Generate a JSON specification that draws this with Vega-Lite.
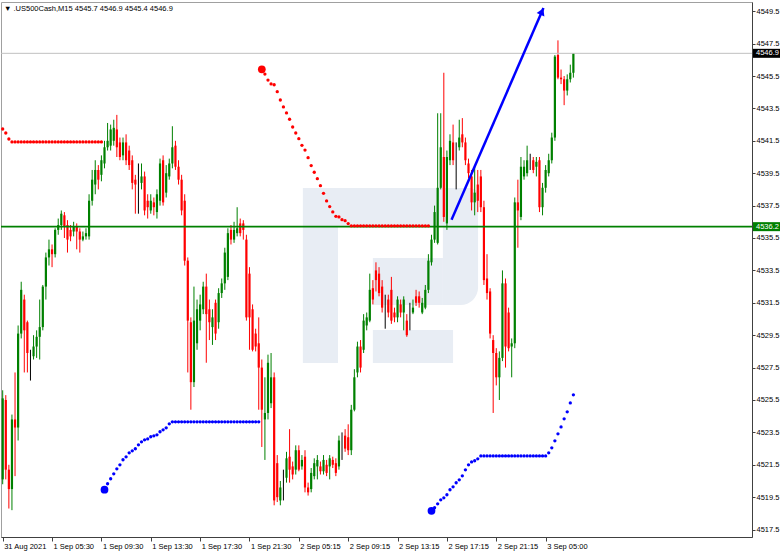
{
"$schema":"https://vega.github.io/schema/vega-lite/v6.json",
"width":751,"height":535,"autosize":"none",
"padding":{"left":1,"top":2,"right":30,"bottom":17},
"background":"white",
"config":{"view":{"stroke":"#a0a0a0","strokeWidth":1},"font":"Liberation Sans"},
"title":{"text":"▼ .US500Cash,M15  4545.7 4546.9 4545.4 4546.9","anchor":"start","frame":"group","orient":"top","offset":-10,"dx":3,"fontSize":7.5,"fontWeight":"normal","color":"#000000","font":"Liberation Sans"},
"resolve":{"axis":{"x":"independent","y":"independent"}},
"datasets":{
"logo":[{"a":97.3,"b":108.7,"lo":4527.78,"hi":4538.59},{"a":108.7,"b":142.7,"lo":4536.18,"hi":4538.59},{"a":120.0,"b":142.7,"lo":4531.36,"hi":4534.27},{"a":120.0,"b":146.0,"lo":4527.78,"hi":4529.82}],
"logoBowl":[{"a":142.7,"b":154.1,"lo":4531.36,"hi":4538.59}],
"bars":[
{"i":0,"o":4520.6,"h":4526.1,"l":4520.3,"c":4525.6},{"i":1,"o":4525.5,"h":4525.8,"l":4520.6,"c":4521.2},{"i":2,"o":4521.2,"h":4521.5,"l":4518.8,"c":4520.0},{"i":3,"o":4520.0,"h":4524.6,"l":4518.7,"c":4524.3},{"i":4,"o":4524.3,"h":4527.2,"l":4520.8,"c":4523.8},{"i":5,"o":4523.8,"h":4530.1,"l":4523.0,"c":4529.6},{"i":6,"o":4529.6,"h":4532.8,"l":4529.3,"c":4532.3},{"i":7,"o":4531.7,"h":4532.0,"l":4527.2,"c":4529.8},{"i":8,"o":4530.3,"h":4530.4,"l":4527.2,"c":4528.4},{"i":9,"o":4528.4,"h":4528.6,"l":4526.7,"c":4528.4},
{"i":10,"o":4528.2,"h":4529.5,"l":4528.0,"c":4528.8},{"i":11,"o":4528.8,"h":4529.8,"l":4528.1,"c":4529.4},{"i":12,"o":4529.4,"h":4531.7,"l":4528.0,"c":4530.0},{"i":13,"o":4530.0,"h":4532.6,"l":4529.8,"c":4532.5},{"i":14,"o":4532.5,"h":4534.6,"l":4531.7,"c":4534.3},{"i":15,"o":4534.3,"h":4535.4,"l":4533.8,"c":4534.8},{"i":16,"o":4534.8,"h":4535.1,"l":4533.7,"c":4534.5},{"i":17,"o":4534.5,"h":4536.1,"l":4534.3,"c":4536.0},{"i":18,"o":4536.0,"h":4536.7,"l":4535.7,"c":4536.3},{"i":19,"o":4536.3,"h":4537.2,"l":4536.0,"c":4537.0},
{"i":20,"o":4536.9,"h":4537.1,"l":4535.5,"c":4536.2},{"i":21,"o":4536.3,"h":4536.6,"l":4534.6,"c":4535.4},{"i":22,"o":4536.0,"h":4536.3,"l":4535.3,"c":4535.6},{"i":23,"o":4535.9,"h":4536.5,"l":4535.6,"c":4536.2},{"i":24,"o":4536.2,"h":4536.4,"l":4534.8,"c":4535.9},{"i":25,"o":4535.9,"h":4536.1,"l":4534.6,"c":4535.4},{"i":26,"o":4535.4,"h":4535.9,"l":4535.3,"c":4535.6},{"i":27,"o":4535.6,"h":4536.1,"l":4535.4,"c":4535.8},{"i":28,"o":4535.6,"h":4538.2,"l":4535.4,"c":4537.8},{"i":29,"o":4537.8,"h":4539.7,"l":4537.5,"c":4539.1},
{"i":30,"o":4538.8,"h":4540.3,"l":4538.2,"c":4539.7},{"i":31,"o":4539.7,"h":4540.0,"l":4538.5,"c":4539.1},{"i":32,"o":4539.4,"h":4540.6,"l":4539.0,"c":4540.3},{"i":33,"o":4540.1,"h":4541.5,"l":4539.8,"c":4541.1},{"i":34,"o":4541.1,"h":4542.6,"l":4540.9,"c":4541.5},{"i":35,"o":4541.2,"h":4542.5,"l":4540.9,"c":4542.2},{"i":36,"o":4541.5,"h":4542.8,"l":4541.2,"c":4542.3},{"i":37,"o":4542.2,"h":4543.1,"l":4540.5,"c":4541.1},{"i":38,"o":4541.4,"h":4541.7,"l":4540.3,"c":4540.5},{"i":39,"o":4540.6,"h":4541.7,"l":4540.3,"c":4541.4},
{"i":40,"o":4541.4,"h":4541.9,"l":4540.0,"c":4540.3},{"i":41,"o":4540.9,"h":4541.2,"l":4539.7,"c":4540.0},{"i":42,"o":4540.3,"h":4540.6,"l":4538.5,"c":4538.9},{"i":43,"o":4539.1,"h":4539.4,"l":4537.0,"c":4538.8},{"i":44,"o":4538.8,"h":4540.1,"l":4537.0,"c":4538.8},{"i":45,"o":4538.9,"h":4540.1,"l":4538.5,"c":4539.3},{"i":46,"o":4539.3,"h":4539.6,"l":4536.9,"c":4537.2},{"i":47,"o":4537.8,"h":4538.2,"l":4536.7,"c":4537.4},{"i":48,"o":4537.2,"h":4538.2,"l":4537.0,"c":4537.8},{"i":49,"o":4537.7,"h":4538.0,"l":4536.9,"c":4537.4},
{"i":50,"o":4537.1,"h":4538.5,"l":4536.7,"c":4538.2},{"i":51,"o":4537.8,"h":4540.4,"l":4537.5,"c":4540.1},{"i":52,"o":4540.3,"h":4540.6,"l":4537.5,"c":4537.7},{"i":53,"o":4538.3,"h":4540.0,"l":4538.0,"c":4539.5},{"i":54,"o":4539.3,"h":4540.4,"l":4539.1,"c":4540.1},{"i":55,"o":4540.1,"h":4542.4,"l":4539.8,"c":4541.1},{"i":56,"o":4541.2,"h":4541.5,"l":4539.7,"c":4539.9},{"i":57,"o":4539.9,"h":4540.3,"l":4538.8,"c":4539.1},{"i":58,"o":4539.1,"h":4539.4,"l":4536.9,"c":4537.2},{"i":59,"o":4537.8,"h":4538.2,"l":4533.8,"c":4534.1},
{"i":60,"o":4534.1,"h":4534.3,"l":4527.2,"c":4530.4},{"i":61,"o":4530.3,"h":4530.6,"l":4524.9,"c":4526.6},{"i":62,"o":4526.6,"h":4532.5,"l":4526.3,"c":4530.4},{"i":63,"o":4529.0,"h":4531.7,"l":4528.6,"c":4531.1},{"i":64,"o":4530.4,"h":4532.0,"l":4529.8,"c":4531.4},{"i":65,"o":4531.1,"h":4532.8,"l":4530.8,"c":4532.5},{"i":66,"o":4532.5,"h":4533.3,"l":4527.8,"c":4530.8},{"i":67,"o":4531.1,"h":4531.7,"l":4529.2,"c":4530.3},{"i":68,"o":4530.0,"h":4531.1,"l":4528.9,"c":4530.6},{"i":69,"o":4531.5,"h":4531.7,"l":4529.2,"c":4529.6},
{"i":70,"o":4530.3,"h":4532.4,"l":4529.9,"c":4532.1},{"i":71,"o":4532.1,"h":4533.0,"l":4531.8,"c":4532.7},{"i":72,"o":4532.7,"h":4534.9,"l":4532.3,"c":4534.6},{"i":73,"o":4533.1,"h":4536.1,"l":4532.9,"c":4535.8},{"i":74,"o":4536.0,"h":4536.3,"l":4535.1,"c":4535.4},{"i":75,"o":4535.4,"h":4536.5,"l":4535.2,"c":4536.0},{"i":76,"o":4535.8,"h":4537.4,"l":4535.6,"c":4536.1},{"i":77,"o":4536.4,"h":4536.7,"l":4535.6,"c":4535.8},{"i":78,"o":4536.4,"h":4536.6,"l":4535.4,"c":4536.0},{"i":79,"o":4535.4,"h":4535.7,"l":4530.4,"c":4530.6},
{"i":80,"o":4533.3,"h":4533.7,"l":4528.6,"c":4530.6},{"i":81,"o":4531.1,"h":4531.4,"l":4528.5,"c":4528.6},{"i":82,"o":4529.6,"h":4529.9,"l":4528.5,"c":4528.8},{"i":83,"o":4529.0,"h":4530.6,"l":4524.9,"c":4527.5},{"i":84,"o":4527.5,"h":4528.0,"l":4522.6,"c":4524.9},{"i":85,"o":4524.3,"h":4526.9,"l":4521.8,"c":4524.7},{"i":86,"o":4524.7,"h":4528.3,"l":4524.3,"c":4527.8},{"i":87,"o":4525.3,"h":4528.4,"l":4525.0,"c":4526.9},{"i":88,"o":4526.9,"h":4527.2,"l":4519.0,"c":4519.3},{"i":89,"o":4521.6,"h":4522.1,"l":4519.2,"c":4519.5},
{"i":90,"o":4519.3,"h":4520.5,"l":4519.0,"c":4520.1},{"i":91,"o":4520.1,"h":4521.2,"l":4519.3,"c":4520.1},{"i":92,"o":4520.7,"h":4522.3,"l":4520.4,"c":4521.9},{"i":93,"o":4522.0,"h":4523.7,"l":4520.4,"c":4521.2},{"i":94,"o":4521.4,"h":4521.7,"l":4520.6,"c":4520.9},{"i":95,"o":4521.2,"h":4522.7,"l":4520.9,"c":4522.4},{"i":96,"o":4522.4,"h":4522.7,"l":4521.1,"c":4521.2},{"i":97,"o":4521.4,"h":4522.1,"l":4521.2,"c":4521.8},{"i":98,"o":4522.0,"h":4522.4,"l":4519.8,"c":4520.1},{"i":99,"o":4520.1,"h":4520.4,"l":4519.6,"c":4519.8},
{"i":100,"o":4520.0,"h":4521.3,"l":4519.8,"c":4521.0},{"i":101,"o":4520.8,"h":4521.9,"l":4520.6,"c":4521.6},{"i":102,"o":4521.4,"h":4522.1,"l":4520.6,"c":4521.8},{"i":103,"o":4521.4,"h":4521.7,"l":4520.9,"c":4521.1},{"i":104,"o":4521.1,"h":4522.1,"l":4520.9,"c":4521.8},{"i":105,"o":4521.5,"h":4521.8,"l":4520.8,"c":4521.0},{"i":106,"o":4521.4,"h":4522.1,"l":4520.6,"c":4521.9},{"i":107,"o":4521.8,"h":4522.0,"l":4521.3,"c":4521.5},{"i":108,"o":4521.6,"h":4521.9,"l":4520.8,"c":4521.0},{"i":109,"o":4521.4,"h":4523.3,"l":4521.2,"c":4523.0},
{"i":110,"o":4523.2,"h":4523.5,"l":4521.8,"c":4523.2},{"i":111,"o":4523.3,"h":4523.7,"l":4522.3,"c":4522.5},{"i":112,"o":4523.2,"h":4524.0,"l":4522.1,"c":4522.4},{"i":113,"o":4522.4,"h":4525.2,"l":4522.1,"c":4524.9},{"i":114,"o":4524.9,"h":4527.4,"l":4524.8,"c":4526.9},{"i":115,"o":4527.2,"h":4529.1,"l":4526.9,"c":4528.8},{"i":116,"o":4528.8,"h":4529.2,"l":4527.2,"c":4527.5},{"i":117,"o":4528.6,"h":4530.8,"l":4528.4,"c":4530.4},{"i":118,"o":4530.1,"h":4530.9,"l":4529.8,"c":4530.6},{"i":119,"o":4530.4,"h":4533.3,"l":4530.3,"c":4532.3},
{"i":120,"o":4532.4,"h":4532.9,"l":4531.4,"c":4531.7},{"i":121,"o":4533.5,"h":4534.0,"l":4532.2,"c":4532.9},{"i":122,"o":4533.3,"h":4533.7,"l":4531.9,"c":4532.1},{"i":123,"o":4532.5,"h":4532.9,"l":4530.9,"c":4531.2},{"i":124,"o":4531.9,"h":4532.0,"l":4529.9,"c":4531.9},{"i":125,"o":4531.7,"h":4532.0,"l":4530.6,"c":4530.9},{"i":126,"o":4532.3,"h":4533.1,"l":4530.2,"c":4530.4},{"i":127,"o":4530.9,"h":4531.2,"l":4530.3,"c":4530.6},{"i":128,"o":4530.6,"h":4531.9,"l":4530.3,"c":4531.7},{"i":129,"o":4531.4,"h":4531.7,"l":4530.6,"c":4530.9},
{"i":130,"o":4530.9,"h":4531.9,"l":4529.8,"c":4531.7},{"i":131,"o":4530.4,"h":4530.8,"l":4529.4,"c":4529.5},{"i":132,"o":4530.9,"h":4531.5,"l":4529.8,"c":4530.9},{"i":133,"o":4530.9,"h":4531.7,"l":4530.8,"c":4531.2},{"i":134,"o":4531.9,"h":4532.3,"l":4531.3,"c":4531.5},{"i":135,"o":4531.9,"h":4532.2,"l":4531.2,"c":4531.5},{"i":136,"o":4530.9,"h":4531.8,"l":4530.8,"c":4531.5},{"i":137,"o":4531.2,"h":4532.6,"l":4531.1,"c":4532.3},{"i":138,"o":4532.3,"h":4534.5,"l":4532.1,"c":4534.1},{"i":139,"o":4534.0,"h":4535.7,"l":4533.8,"c":4535.4},
{"i":140,"o":4535.4,"h":4537.5,"l":4535.2,"c":4537.1},{"i":141,"o":4535.2,"h":4543.2,"l":4535.1,"c":4538.6},{"i":142,"o":4538.6,"h":4543.2,"l":4538.5,"c":4541.1},{"i":143,"o":4540.5,"h":4545.7,"l":4536.5,"c":4536.8},{"i":144,"o":4536.4,"h":4540.9,"l":4536.0,"c":4540.5},{"i":145,"o":4540.3,"h":4541.9,"l":4540.0,"c":4541.5},{"i":146,"o":4541.4,"h":4542.5,"l":4540.0,"c":4540.3},{"i":147,"o":4541.2,"h":4541.4,"l":4538.5,"c":4541.2},{"i":148,"o":4541.1,"h":4542.8,"l":4540.9,"c":4541.7},{"i":149,"o":4541.9,"h":4542.9,"l":4541.1,"c":4541.4},
{"i":150,"o":4541.4,"h":4541.7,"l":4540.0,"c":4540.3},{"i":151,"o":4540.1,"h":4540.4,"l":4539.2,"c":4539.5},{"i":152,"o":4539.3,"h":4539.7,"l":4537.2,"c":4537.7},{"i":153,"o":4537.7,"h":4540.0,"l":4536.9,"c":4538.3},{"i":154,"o":4538.8,"h":4539.7,"l":4537.1,"c":4537.8},{"i":155,"o":4539.3,"h":4539.7,"l":4537.1,"c":4537.4},{"i":156,"o":4537.4,"h":4537.8,"l":4532.6,"c":4532.9},{"i":157,"o":4533.0,"h":4534.5,"l":4531.7,"c":4532.1},{"i":158,"o":4532.2,"h":4532.4,"l":4529.3,"c":4529.6},{"i":159,"o":4529.2,"h":4529.5,"l":4524.7,"c":4528.4},
{"i":160,"o":4528.4,"h":4528.7,"l":4526.4,"c":4526.9},{"i":161,"o":4526.9,"h":4528.5,"l":4525.5,"c":4528.1},{"i":162,"o":4528.1,"h":4533.5,"l":4527.9,"c":4532.7},{"i":163,"o":4532.7,"h":4533.0,"l":4527.5,"c":4528.8},{"i":164,"o":4530.9,"h":4531.2,"l":4528.5,"c":4528.7},{"i":165,"o":4528.8,"h":4529.3,"l":4526.9,"c":4529.0},{"i":166,"o":4529.0,"h":4538.0,"l":4528.7,"c":4537.7},{"i":167,"o":4537.7,"h":4539.1,"l":4534.9,"c":4537.2},{"i":168,"o":4536.8,"h":4540.5,"l":4536.6,"c":4539.9},{"i":169,"o":4539.3,"h":4540.3,"l":4539.1,"c":4539.9},
{"i":170,"o":4539.5,"h":4541.2,"l":4539.3,"c":4540.3},{"i":171,"o":4540.2,"h":4540.7,"l":4539.7,"c":4540.2},{"i":172,"o":4540.3,"h":4540.5,"l":4539.5,"c":4539.7},{"i":173,"o":4539.9,"h":4540.5,"l":4539.3,"c":4540.2},{"i":174,"o":4540.3,"h":4540.5,"l":4537.1,"c":4537.4},{"i":175,"o":4537.4,"h":4538.9,"l":4536.9,"c":4538.6},{"i":176,"o":4538.6,"h":4540.0,"l":4538.3,"c":4539.7},{"i":177,"o":4539.5,"h":4540.7,"l":4539.3,"c":4540.3},{"i":178,"o":4540.3,"h":4542.0,"l":4540.1,"c":4541.7},{"i":179,"o":4541.7,"h":4546.8,"l":4541.5,"c":4546.7},
{"i":180,"o":4546.8,"h":4547.7,"l":4545.3,"c":4545.4},{"i":181,"o":4545.4,"h":4545.9,"l":4545.0,"c":4545.3},{"i":182,"o":4545.3,"h":4545.5,"l":4543.7,"c":4544.6},{"i":183,"o":4544.6,"h":4545.6,"l":4544.3,"c":4545.3},{"i":184,"o":4545.3,"h":4546.2,"l":4545.1,"c":4545.7},{"i":185,"o":4545.7,"h":4546.9,"l":4545.4,"c":4546.9}
],
"sar":[
{"i":0,"v":4542.23,"t":"d"},{"i":1,"v":4541.98,"t":"d"},{"i":2,"v":4541.61,"t":"d"},{"i":3,"v":4541.43,"t":"d"},{"i":4,"v":4541.43,"t":"d"},{"i":5,"v":4541.43,"t":"d"},{"i":6,"v":4541.43,"t":"d"},{"i":7,"v":4541.43,"t":"d"},{"i":8,"v":4541.43,"t":"d"},{"i":9,"v":4541.43,"t":"d"},{"i":10,"v":4541.43,"t":"d"},{"i":11,"v":4541.43,"t":"d"},{"i":12,"v":4541.43,"t":"d"},{"i":13,"v":4541.43,"t":"d"},{"i":14,"v":4541.43,"t":"d"},{"i":15,"v":4541.43,"t":"d"},{"i":16,"v":4541.43,"t":"d"},{"i":17,"v":4541.43,"t":"d"},{"i":18,"v":4541.43,"t":"d"},{"i":19,"v":4541.43,"t":"d"},{"i":20,"v":4541.43,"t":"d"},{"i":21,"v":4541.43,"t":"d"},{"i":22,"v":4541.43,"t":"d"},{"i":23,"v":4541.43,"t":"d"},{"i":24,"v":4541.43,"t":"d"},{"i":25,"v":4541.43,"t":"d"},{"i":26,"v":4541.43,"t":"d"},{"i":27,"v":4541.43,"t":"d"},{"i":28,"v":4541.43,"t":"d"},{"i":29,"v":4541.43,"t":"d"},{"i":30,"v":4541.43,"t":"d"},{"i":31,"v":4541.43,"t":"d"},{"i":32,"v":4541.43,"t":"d"},
{"i":33,"v":4519.96,"t":"u"},{"i":34,"v":4520.33,"t":"u"},{"i":35,"v":4520.64,"t":"u"},{"i":36,"v":4520.94,"t":"u"},{"i":37,"v":4521.25,"t":"u"},{"i":38,"v":4521.50,"t":"u"},{"i":39,"v":4521.81,"t":"u"},{"i":40,"v":4521.99,"t":"u"},{"i":41,"v":4522.24,"t":"u"},{"i":42,"v":4522.36,"t":"u"},{"i":43,"v":4522.49,"t":"u"},{"i":44,"v":4522.73,"t":"u"},{"i":45,"v":4522.92,"t":"u"},{"i":46,"v":4523.04,"t":"u"},{"i":47,"v":4523.10,"t":"u"},{"i":48,"v":4523.23,"t":"u"},{"i":49,"v":4523.29,"t":"u"},{"i":50,"v":4523.35,"t":"u"},{"i":51,"v":4523.54,"t":"u"},{"i":52,"v":4523.66,"t":"u"},{"i":53,"v":4523.78,"t":"u"},{"i":54,"v":4524.03,"t":"u"},{"i":55,"v":4524.15,"t":"u"},{"i":56,"v":4524.15,"t":"u"},{"i":57,"v":4524.15,"t":"u"},{"i":58,"v":4524.15,"t":"u"},{"i":59,"v":4524.15,"t":"u"},{"i":60,"v":4524.15,"t":"u"},{"i":61,"v":4524.15,"t":"u"},{"i":62,"v":4524.15,"t":"u"},{"i":63,"v":4524.15,"t":"u"},{"i":64,"v":4524.15,"t":"u"},{"i":65,"v":4524.15,"t":"u"},{"i":66,"v":4524.15,"t":"u"},{"i":67,"v":4524.15,"t":"u"},{"i":68,"v":4524.15,"t":"u"},{"i":69,"v":4524.15,"t":"u"},{"i":70,"v":4524.15,"t":"u"},{"i":71,"v":4524.15,"t":"u"},{"i":72,"v":4524.15,"t":"u"},{"i":73,"v":4524.15,"t":"u"},{"i":74,"v":4524.15,"t":"u"},{"i":75,"v":4524.15,"t":"u"},{"i":76,"v":4524.15,"t":"u"},{"i":77,"v":4524.15,"t":"u"},{"i":78,"v":4524.15,"t":"u"},{"i":79,"v":4524.15,"t":"u"},{"i":80,"v":4524.15,"t":"u"},{"i":81,"v":4524.15,"t":"u"},{"i":82,"v":4524.15,"t":"u"},{"i":83,"v":4524.15,"t":"u"},
{"i":84,"v":4545.91,"t":"d"},{"i":85,"v":4545.62,"t":"d"},{"i":86,"v":4545.25,"t":"d"},{"i":87,"v":4545.01,"t":"d"},{"i":88,"v":4544.96,"t":"d"},{"i":89,"v":4544.53,"t":"d"},{"i":90,"v":4544.02,"t":"d"},{"i":91,"v":4543.59,"t":"d"},{"i":92,"v":4543.22,"t":"d"},{"i":93,"v":4542.83,"t":"d"},{"i":94,"v":4542.35,"t":"d"},{"i":95,"v":4541.98,"t":"d"},{"i":96,"v":4541.63,"t":"d"},{"i":97,"v":4541.22,"t":"d"},{"i":98,"v":4540.93,"t":"d"},{"i":99,"v":4540.46,"t":"d"},{"i":100,"v":4539.97,"t":"d"},{"i":101,"v":4539.56,"t":"d"},{"i":102,"v":4539.16,"t":"d"},{"i":103,"v":4538.73,"t":"d"},{"i":104,"v":4538.26,"t":"d"},{"i":105,"v":4537.79,"t":"d"},{"i":106,"v":4537.44,"t":"d"},{"i":107,"v":4537.11,"t":"d"},{"i":108,"v":4536.84,"t":"d"},{"i":109,"v":4536.80,"t":"d"},{"i":110,"v":4536.63,"t":"d"},{"i":111,"v":4536.57,"t":"d"},{"i":112,"v":4536.39,"t":"d"},{"i":113,"v":4536.25,"t":"d"},{"i":114,"v":4536.25,"t":"d"},{"i":115,"v":4536.25,"t":"d"},{"i":116,"v":4536.25,"t":"d"},{"i":117,"v":4536.25,"t":"d"},{"i":118,"v":4536.25,"t":"d"},{"i":119,"v":4536.25,"t":"d"},{"i":120,"v":4536.25,"t":"d"},{"i":121,"v":4536.25,"t":"d"},{"i":122,"v":4536.25,"t":"d"},{"i":123,"v":4536.25,"t":"d"},{"i":124,"v":4536.25,"t":"d"},{"i":125,"v":4536.25,"t":"d"},{"i":126,"v":4536.25,"t":"d"},{"i":127,"v":4536.25,"t":"d"},{"i":128,"v":4536.25,"t":"d"},{"i":129,"v":4536.25,"t":"d"},{"i":130,"v":4536.25,"t":"d"},{"i":131,"v":4536.25,"t":"d"},{"i":132,"v":4536.25,"t":"d"},{"i":133,"v":4536.25,"t":"d"},{"i":134,"v":4536.25,"t":"d"},{"i":135,"v":4536.25,"t":"d"},{"i":136,"v":4536.25,"t":"d"},{"i":137,"v":4536.25,"t":"d"},{"i":138,"v":4536.25,"t":"d"},
{"i":139,"v":4518.66,"t":"u"},{"i":140,"v":4518.85,"t":"u"},{"i":141,"v":4519.09,"t":"u"},{"i":142,"v":4519.34,"t":"u"},{"i":143,"v":4519.46,"t":"u"},{"i":144,"v":4519.65,"t":"u"},{"i":145,"v":4519.96,"t":"u"},{"i":146,"v":4520.14,"t":"u"},{"i":147,"v":4520.39,"t":"u"},{"i":148,"v":4520.57,"t":"u"},{"i":149,"v":4520.82,"t":"u"},{"i":150,"v":4521.19,"t":"u"},{"i":151,"v":4521.50,"t":"u"},{"i":152,"v":4521.68,"t":"u"},{"i":153,"v":4521.75,"t":"u"},{"i":154,"v":4521.87,"t":"u"},{"i":155,"v":4522.05,"t":"u"},{"i":156,"v":4522.05,"t":"u"},{"i":157,"v":4522.05,"t":"u"},{"i":158,"v":4522.05,"t":"u"},{"i":159,"v":4522.05,"t":"u"},{"i":160,"v":4522.05,"t":"u"},{"i":161,"v":4522.05,"t":"u"},{"i":162,"v":4522.05,"t":"u"},{"i":163,"v":4522.05,"t":"u"},{"i":164,"v":4522.05,"t":"u"},{"i":165,"v":4522.05,"t":"u"},{"i":166,"v":4522.05,"t":"u"},{"i":167,"v":4522.05,"t":"u"},{"i":168,"v":4522.05,"t":"u"},{"i":169,"v":4522.05,"t":"u"},{"i":170,"v":4522.05,"t":"u"},{"i":171,"v":4522.05,"t":"u"},{"i":172,"v":4522.05,"t":"u"},{"i":173,"v":4522.05,"t":"u"},{"i":174,"v":4522.05,"t":"u"},{"i":175,"v":4522.05,"t":"u"},{"i":176,"v":4522.05,"t":"u"},{"i":177,"v":4522.24,"t":"u"},{"i":178,"v":4522.55,"t":"u"},{"i":179,"v":4522.98,"t":"u"},{"i":180,"v":4523.41,"t":"u"},{"i":181,"v":4523.84,"t":"u"},{"i":182,"v":4524.34,"t":"u"},{"i":183,"v":4524.77,"t":"u"},{"i":184,"v":4525.32,"t":"u"},{"i":185,"v":4525.82,"t":"u"}
],
"sarStart":[{"i":33,"v":4519.96,"t":"u"},{"i":84,"v":4545.91,"t":"d"},{"i":139,"v":4518.66,"t":"u"}],
"arrow":[{"i":145.5,"p":4536.62,"i2":175.3,"p2":4549.70}],
"levels":[{"p":4546.9,"label":"4546.9","kind":"bid"},{"p":4536.2,"label":"4536.2","kind":"hline"}]
},
"layer":[
{"data":{"name":"logo"},"mark":{"type":"rect","color":"#e8edf4"},
 "encoding":{
  "x":{"field":"a","type":"quantitative","scale":{"domain":[-0.55,242.9],"nice":false,"zero":false},"axis":null},
  "x2":{"field":"b"},
  "y":{"field":"lo","type":"quantitative","scale":{"domain":[4517.043,4550.068],"nice":false,"zero":false},"axis":null},
  "y2":{"field":"hi"}
 }},
{"data":{"name":"logoBowl"},"mark":{"type":"rect","color":"#e8edf4","cornerRadiusBottomRight":30,"cornerRadiusTopRight":8},
 "encoding":{
  "x":{"field":"a","type":"quantitative","scale":{"domain":[-0.55,242.9],"nice":false,"zero":false},"axis":null},
  "x2":{"field":"b"},
  "y":{"field":"lo","type":"quantitative","scale":{"domain":[4517.043,4550.068],"nice":false,"zero":false},"axis":null},
  "y2":{"field":"hi"}
 }},
{"data":{"name":"bars"},"mark":{"type":"rule","strokeWidth":1},
 "encoding":{
  "x":{"field":"i","type":"quantitative","scale":{"domain":[-0.55,242.9],"nice":false,"zero":false},
   "axis":{"values":[0,16,32,48,64,80,96,112,128,144,160,176],"labelExpr":"['31 Aug 2021','1 Sep 05:30','1 Sep 09:30','1 Sep 13:30','1 Sep 17:30','1 Sep 21:30','2 Sep 05:15','2 Sep 09:15','2 Sep 13:15','2 Sep 17:15','2 Sep 21:15','3 Sep 05:00'][round(datum.value/16)]","title":null,"grid":false,"labelAlign":"left","labelOffset":1,"labelPadding":1,"tickSize":4,"labelFontSize":7.5,"labelFont":"Liberation Sans","labelColor":"#000000","tickColor":"#404040","domainColor":"#404040","labelOverlap":false,"labelFlush":false,"labelBaseline":"top"}},
  "y":{"field":"l","type":"quantitative","scale":{"domain":[4517.043,4550.068],"nice":false,"zero":false},
   "axis":{"orient":"right","values":[4517.5,4519.5,4521.5,4523.5,4525.5,4527.5,4529.5,4531.5,4533.5,4535.5,4537.5,4539.5,4541.5,4543.5,4545.5,4547.5,4549.5],"format":".1f","title":null,"grid":false,"tickSize":3,"labelPadding":1,"labelFontSize":7.5,"labelFont":"Liberation Sans","labelColor":"#000000","tickColor":"#404040","domainColor":"#404040","labelOverlap":false,"labelFlush":false,"labelBaseline":"middle"}},
  "y2":{"field":"h"},
  "color":{"condition":[{"test":"datum.c > datum.o","value":"#008000"},{"test":"datum.c < datum.o","value":"#ff0000"}],"value":"#000000"}
 }},
{"data":{"name":"bars"},"mark":{"type":"rule","strokeWidth":2.2,"strokeCap":"butt"},
 "encoding":{
  "x":{"field":"i","type":"quantitative","scale":{"domain":[-0.55,242.9],"nice":false,"zero":false},"axis":null},
  "y":{"field":"o","type":"quantitative","scale":{"domain":[4517.043,4550.068],"nice":false,"zero":false},"axis":null},
  "y2":{"field":"c"},
  "color":{"condition":[{"test":"datum.c > datum.o","value":"#008000"},{"test":"datum.c < datum.o","value":"#ff0000"}],"value":"#000000"}
 }},
{"data":{"name":"levels"},"mark":{"type":"rule"},
 "encoding":{
  "y":{"field":"p","type":"quantitative","scale":{"domain":[4517.043,4550.068],"nice":false,"zero":false},"axis":null},
  "color":{"condition":{"test":"datum.kind == 'bid'","value":"#c0c0c0"},"value":"#008000"},
  "strokeWidth":{"condition":{"test":"datum.kind == 'bid'","value":1},"value":1.6}
 }},
{"data":{"name":"sar"},"mark":{"type":"point","filled":true,"opacity":1,"size":11},
 "encoding":{
  "x":{"field":"i","type":"quantitative","scale":{"domain":[-0.55,242.9],"nice":false,"zero":false},"axis":null},
  "y":{"field":"v","type":"quantitative","scale":{"domain":[4517.043,4550.068],"nice":false,"zero":false},"axis":null},
  "color":{"condition":{"test":"datum.t == 'd'","value":"#ff0000"},"value":"#0000ff"}
 }},
{"data":{"name":"sarStart"},"mark":{"type":"point","filled":true,"opacity":1,"size":60},
 "encoding":{
  "x":{"field":"i","type":"quantitative","scale":{"domain":[-0.55,242.9],"nice":false,"zero":false},"axis":null},
  "y":{"field":"v","type":"quantitative","scale":{"domain":[4517.043,4550.068],"nice":false,"zero":false},"axis":null},
  "color":{"condition":{"test":"datum.t == 'd'","value":"#ff0000"},"value":"#0000ff"}
 }},
{"data":{"name":"arrow"},"mark":{"type":"rule","strokeWidth":2.5,"color":"#0000ff"},
 "encoding":{
  "x":{"field":"i","type":"quantitative","scale":{"domain":[-0.55,242.9],"nice":false,"zero":false},"axis":null},
  "y":{"field":"p","type":"quantitative","scale":{"domain":[4517.043,4550.068],"nice":false,"zero":false},"axis":null},
  "x2":{"field":"i2"},"y2":{"field":"p2"}
 }},
{"data":{"name":"arrow"},"mark":{"type":"point","shape":"triangle-up","filled":true,"size":70,"angle":23.5,"color":"#0000ff","opacity":1,"xOffset":-1.5,"yOffset":3.5},
 "encoding":{
  "x":{"field":"i2","type":"quantitative","scale":{"domain":[-0.55,242.9],"nice":false,"zero":false},"axis":null},
  "y":{"field":"p2","type":"quantitative","scale":{"domain":[4517.043,4550.068],"nice":false,"zero":false},"axis":null}
 }},
{"data":{"name":"levels"},"mark":{"type":"rect","xOffset":1,"x2Offset":28,"yOffset":-4.5,"y2Offset":4.5},
 "encoding":{
  "x":{"value":"width"},"x2":{"value":"width"},
  "y":{"field":"p","type":"quantitative","scale":{"domain":[4517.043,4550.068],"nice":false,"zero":false},"axis":null},
  "y2":{"field":"p"},
  "color":{"condition":{"test":"datum.kind == 'bid'","value":"#000000"},"value":"#008000"}
 }},
{"data":{"name":"levels"},"mark":{"type":"text","align":"left","baseline":"middle","dx":4,"fontSize":7.5,"font":"Liberation Sans","color":"#ffffff"},
 "encoding":{
  "x":{"value":"width"},
  "y":{"field":"p","type":"quantitative","scale":{"domain":[4517.043,4550.068],"nice":false,"zero":false},"axis":null},
  "text":{"field":"label"}
 }}
]
}
